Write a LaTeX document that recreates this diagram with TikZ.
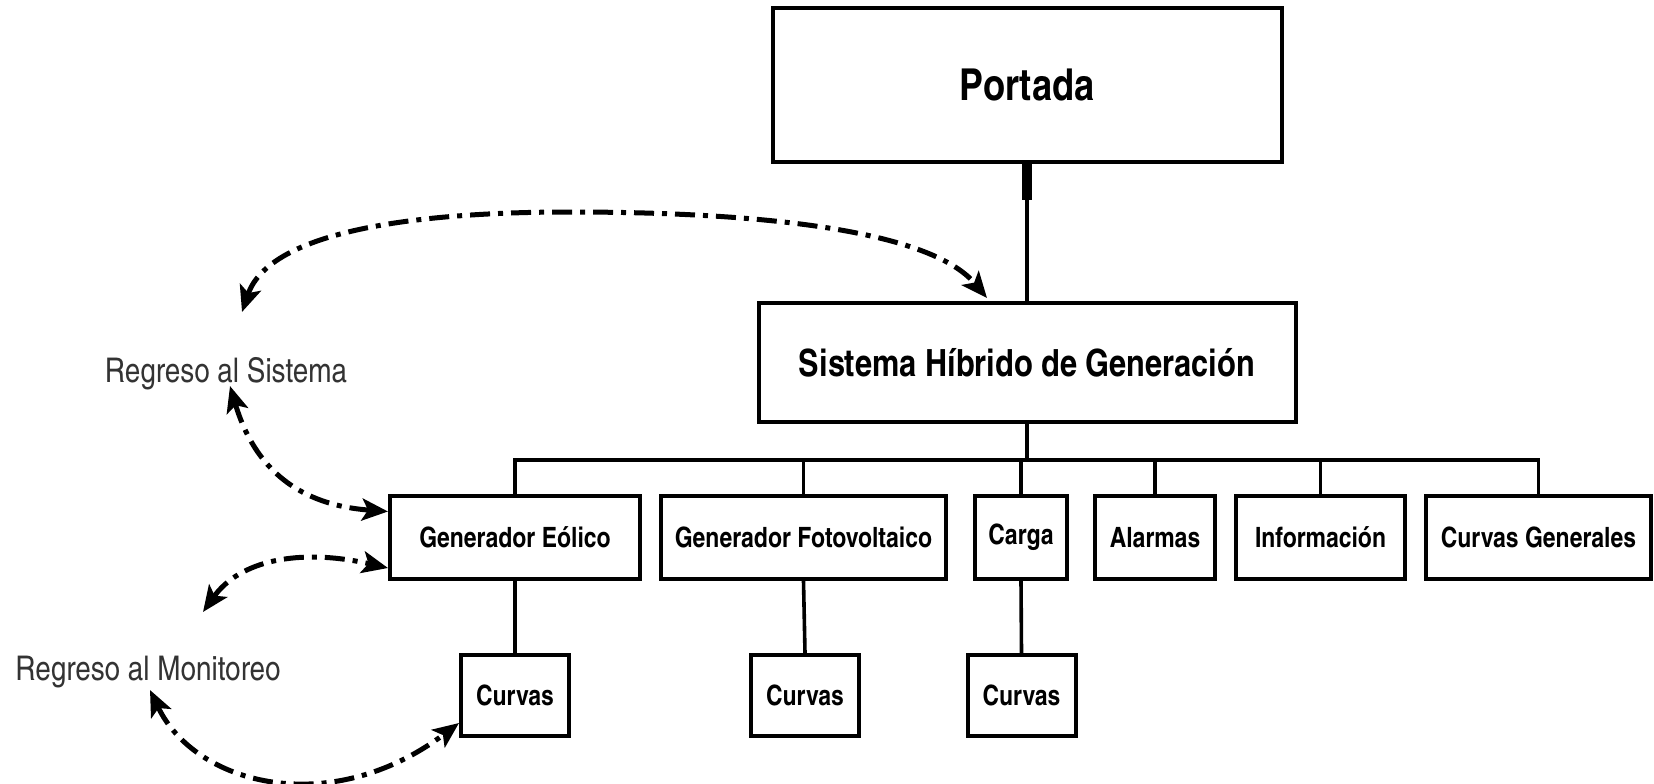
\documentclass[tikz,border=0pt]{standalone}
\usepackage{fontspec}
\setmainfont{texgyreheroscn}[Extension=.otf, UprightFont=*-regular, BoldFont=*-bold]
\usetikzlibrary{arrows.meta}
\tikzset{
  box/.style={draw, line width=4pt, inner sep=0pt, align=center,
    font=\bfseries\fontsize{28}{32}\selectfont},
  childbox/.style={box, minimum height=83pt},
  curvbox/.style={box, minimum width=108pt, minimum height=81pt},
  conn/.style={line width=3.6pt},
  lbl/.style={anchor=base, inner sep=0pt, text=black!80,
    font=\fontsize{34}{40}\selectfont},
  backarrow/.style={line width=5pt, dash pattern=on 20pt off 8pt on 5pt off 8pt,
    {Stealth[length=26pt,width=22pt,inset=6pt]}-{Stealth[length=26pt,width=22pt,inset=6pt]}}
}
\begin{document}
\begin{tikzpicture}[x=1pt,y=-1pt]
\useasboundingbox (0,0) rectangle (1654,784);
% main boxes
\node[box, minimum width=509pt, minimum height=153pt,
  font=\bfseries\fontsize{44}{50}\selectfont] (portada) at (1027,85) {Portada};
\node[box, minimum width=537pt, minimum height=119pt,
  font=\bfseries\fontsize{37.5}{44}\selectfont] (sistema) at (1027,362.5) {Sistema Híbrido de Generación};
% children
\node[childbox, minimum width=250pt] (ge) at (515,537.5) {Generador Eólico};
\node[childbox, minimum width=285pt] (gf) at (803.5,537.5) {Generador Fotovoltaico};
\node[childbox, minimum width=92pt] (carga) at (1021,537.5) {Carga};
\node[childbox, minimum width=120pt] (alarmas) at (1155,537.5) {Alarmas};
\node[childbox, minimum width=169pt] (info) at (1320.5,537.5) {Información};
\node[childbox, minimum width=225pt] (cgen) at (1538.5,537.5) {Curvas Generales};
% curvas
\node[curvbox] (c1) at (515,695.5) {Curvas};
\node[curvbox] (c2) at (805,695.5) {Curvas};
\node[curvbox] (c3) at (1021.5,695.5) {Curvas};
% labels
\node[lbl] (rs) at (226,382) {Regreso al Sistema};
\node[lbl] (rm) at (148,680) {Regreso al Monitoreo};
% tree connectors
\coordinate (stub) at (1027,200);
\coordinate (bus) at (1027,460);
\draw[line width=10pt] (portada.south) -- (stub);
\draw[conn] (stub) -- (sistema.north);
\draw[conn] (sistema.south) -- (bus);
\draw[conn] (ge.north) -- (ge.north |- bus) -- (cgen.north |- bus) -- (cgen.north);
\draw[conn] (gf.north) -- (gf.north |- bus);
\draw[conn] (carga.north) -- (carga.north |- bus);
\draw[conn] (alarmas.north) -- (alarmas.north |- bus);
\draw[conn] (info.north) -- (info.north |- bus);
\draw[conn] (ge.south) -- (c1.north);
\draw[conn] (gf.south) -- (c2.north);
\draw[conn] (carga.south) -- (c3.north);
% return arrows
\coordinate (rsTop) at (242,312);
\coordinate (rsBot) at (230,386);
\coordinate (rmTop) at (203,612);
\coordinate (rmBot) at (150,690);
\coordinate (sisIn) at (987,298);
\draw[backarrow] (rsTop) .. controls (270,230) and (420,212) .. (570,212)
  .. controls (760,212) and (930,230) .. (sisIn);
\draw[backarrow] (rsBot) .. controls (255,470) and (300,505) .. ([yshift=26pt]ge.west);
\draw[backarrow] (rmTop) .. controls (240,560) and (300,548) .. ([yshift=-30.5pt]ge.west);
\draw[backarrow] (rmBot) .. controls (195,785) and (330,820) .. ([yshift=-27.5pt]c1.west);
\end{tikzpicture}
\end{document}
